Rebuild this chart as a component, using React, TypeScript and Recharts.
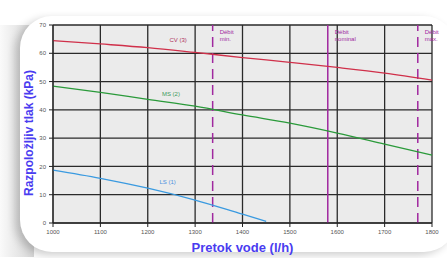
import React from 'react';
import {
  LineChart, Line, XAxis, YAxis, CartesianGrid, ReferenceLine, ReferenceDot, Label,
} from 'recharts';

// flow (l/h) and available pressure (kPa) per pump speed
const flows = [1000, 1100, 1200, 1300, 1400, 1500, 1600, 1700, 1800];
const cvValues = [64.5, 63.3, 62.0, 60.3, 58.5, 56.8, 55.0, 53.0, 50.5];
const msValues = [48.4, 46.2, 43.7, 41.3, 38.2, 35.3, 31.8, 27.9, 24.0];
const lsFlows = [1000, 1100, 1200, 1300, 1400, 1450];
const lsValues = [18.7, 15.8, 12.3, 8.1, 3.1, 0.6];

const yTicks = [0, 10, 20, 30, 40, 50, 60, 70];

const flowMarks = [
  { flow: 1337, lines: ['Débit', 'min.'], dashed: true },
  { flow: 1580, lines: ['Débit', 'nominal'], dashed: false },
  { flow: 1770, lines: ['Débit', 'max.'], dashed: true },
];

const curveLabels = [
  { name: 'CV (3)', flow: 1264, kpa: 64.6, color: '#b0305a' },
  { name: 'MS (2)', flow: 1249, kpa: 45.8, color: '#3a9a5a' },
  { name: 'LS (1)', flow: 1242, kpa: 14.6, color: '#4a8fe0' },
];

const cvData = flows.map((f, i) => ({ flow: f, value: cvValues[i] }));
const msData = flows.map((f, i) => ({ flow: f, value: msValues[i] }));
const lsData = lsFlows.map((f, i) => ({ flow: f, value: lsValues[i] }));

const smallFont = "'Liberation Sans Narrow', 'Liberation Sans', Arial, sans-serif";
const purple = '#a0289f';

const MarkLabel = ({ viewBox, lines }: any) => {
  const { x, y } = viewBox;
  return (
    <text x={x + 7} y={y + 9} fontSize={6} fontFamily={smallFont} fill={purple}>
      <tspan x={x + 7}>{lines[0]}</tspan>
      <tspan x={x + 7} dy={7}>{lines[1]}</tspan>
    </text>
  );
};

export default function App() {
  return (
    <div style={{ position: 'absolute', left: 0, top: 0, width: 447, height: 258, background: '#fff', overflow: 'hidden' }}>
      <div style={{ position: 'absolute', left: 0, top: 25, width: 34, height: 232, background: 'linear-gradient(to right, #fafafa, #d6d6d6)' }} />
      <div
        style={{
          position: 'absolute', left: 20, top: 16, width: 436, height: 236,
          background: '#fff', borderRadius: 32, boxShadow: '-5px 3px 9px rgba(0,0,0,0.2)',
        }}
      />
      <div style={{ position: 'absolute', left: 0, top: 0 }}>
        <LineChart width={447} height={258} margin={{ top: 25, right: 15, left: 0, bottom: 5 }}>
          <CartesianGrid stroke="#2a2a2a" strokeWidth={1.3} fill="#ebebeb" />
          <XAxis
            type="number"
            dataKey="flow"
            domain={[1000, 1800]}
            ticks={flows}
            height={30}
            tickSize={4}
            tickMargin={3}
            stroke="#222"
            tick={{ fontSize: 6, fontFamily: smallFont, fill: '#555' }}
            allowDuplicatedCategory={false}
          >
            <Label
              value="Pretok vode (l/h)"
              position="insideBottom"
              offset={1}
              style={{ fontSize: 13, fontWeight: 700, fill: '#4a3cf0', fontFamily: 'Arial, Liberation Sans, sans-serif' }}
            />
          </XAxis>
          <YAxis
            type="number"
            domain={[0, 70]}
            ticks={yTicks}
            width={53}
            tickSize={4}
            tickMargin={3}
            stroke="#222"
            tick={{ fontSize: 6, fontFamily: smallFont, fill: '#555' }}
          >
            <Label
              value="Razpoložljiv tlak (kPa)"
              angle={-90}
              position="insideLeft"
              offset={29}
              dy={9}
              style={{ fontSize: 12, fontWeight: 700, fill: '#4a3cf0', fontFamily: 'Arial, Liberation Sans, sans-serif', textAnchor: 'middle' }}
            />
          </YAxis>
          {flowMarks.map((m) => (
            <ReferenceLine
              key={m.flow}
              x={m.flow}
              stroke={purple}
              strokeWidth={1.5}
              strokeDasharray={m.dashed ? '10 6' : undefined}
              label={<MarkLabel lines={m.lines} />}
            />
          ))}
          <Line data={cvData} dataKey="value" type="monotone" stroke="#d0304a" strokeWidth={1.3} dot={false} isAnimationActive={false} />
          <Line data={msData} dataKey="value" type="monotone" stroke="#2a9a3a" strokeWidth={1.3} dot={false} isAnimationActive={false} />
          <Line data={lsData} dataKey="value" type="monotone" stroke="#3a9ae0" strokeWidth={1.3} dot={false} isAnimationActive={false} />
          {curveLabels.map((c) => (
            <ReferenceDot
              key={c.name}
              x={c.flow}
              y={c.kpa}
              r={0}
              stroke="none"
              label={{ value: c.name, position: 'center', fontSize: 6, fontFamily: smallFont, fill: c.color }}
            />
          ))}
        </LineChart>
      </div>
    </div>
  );
}
